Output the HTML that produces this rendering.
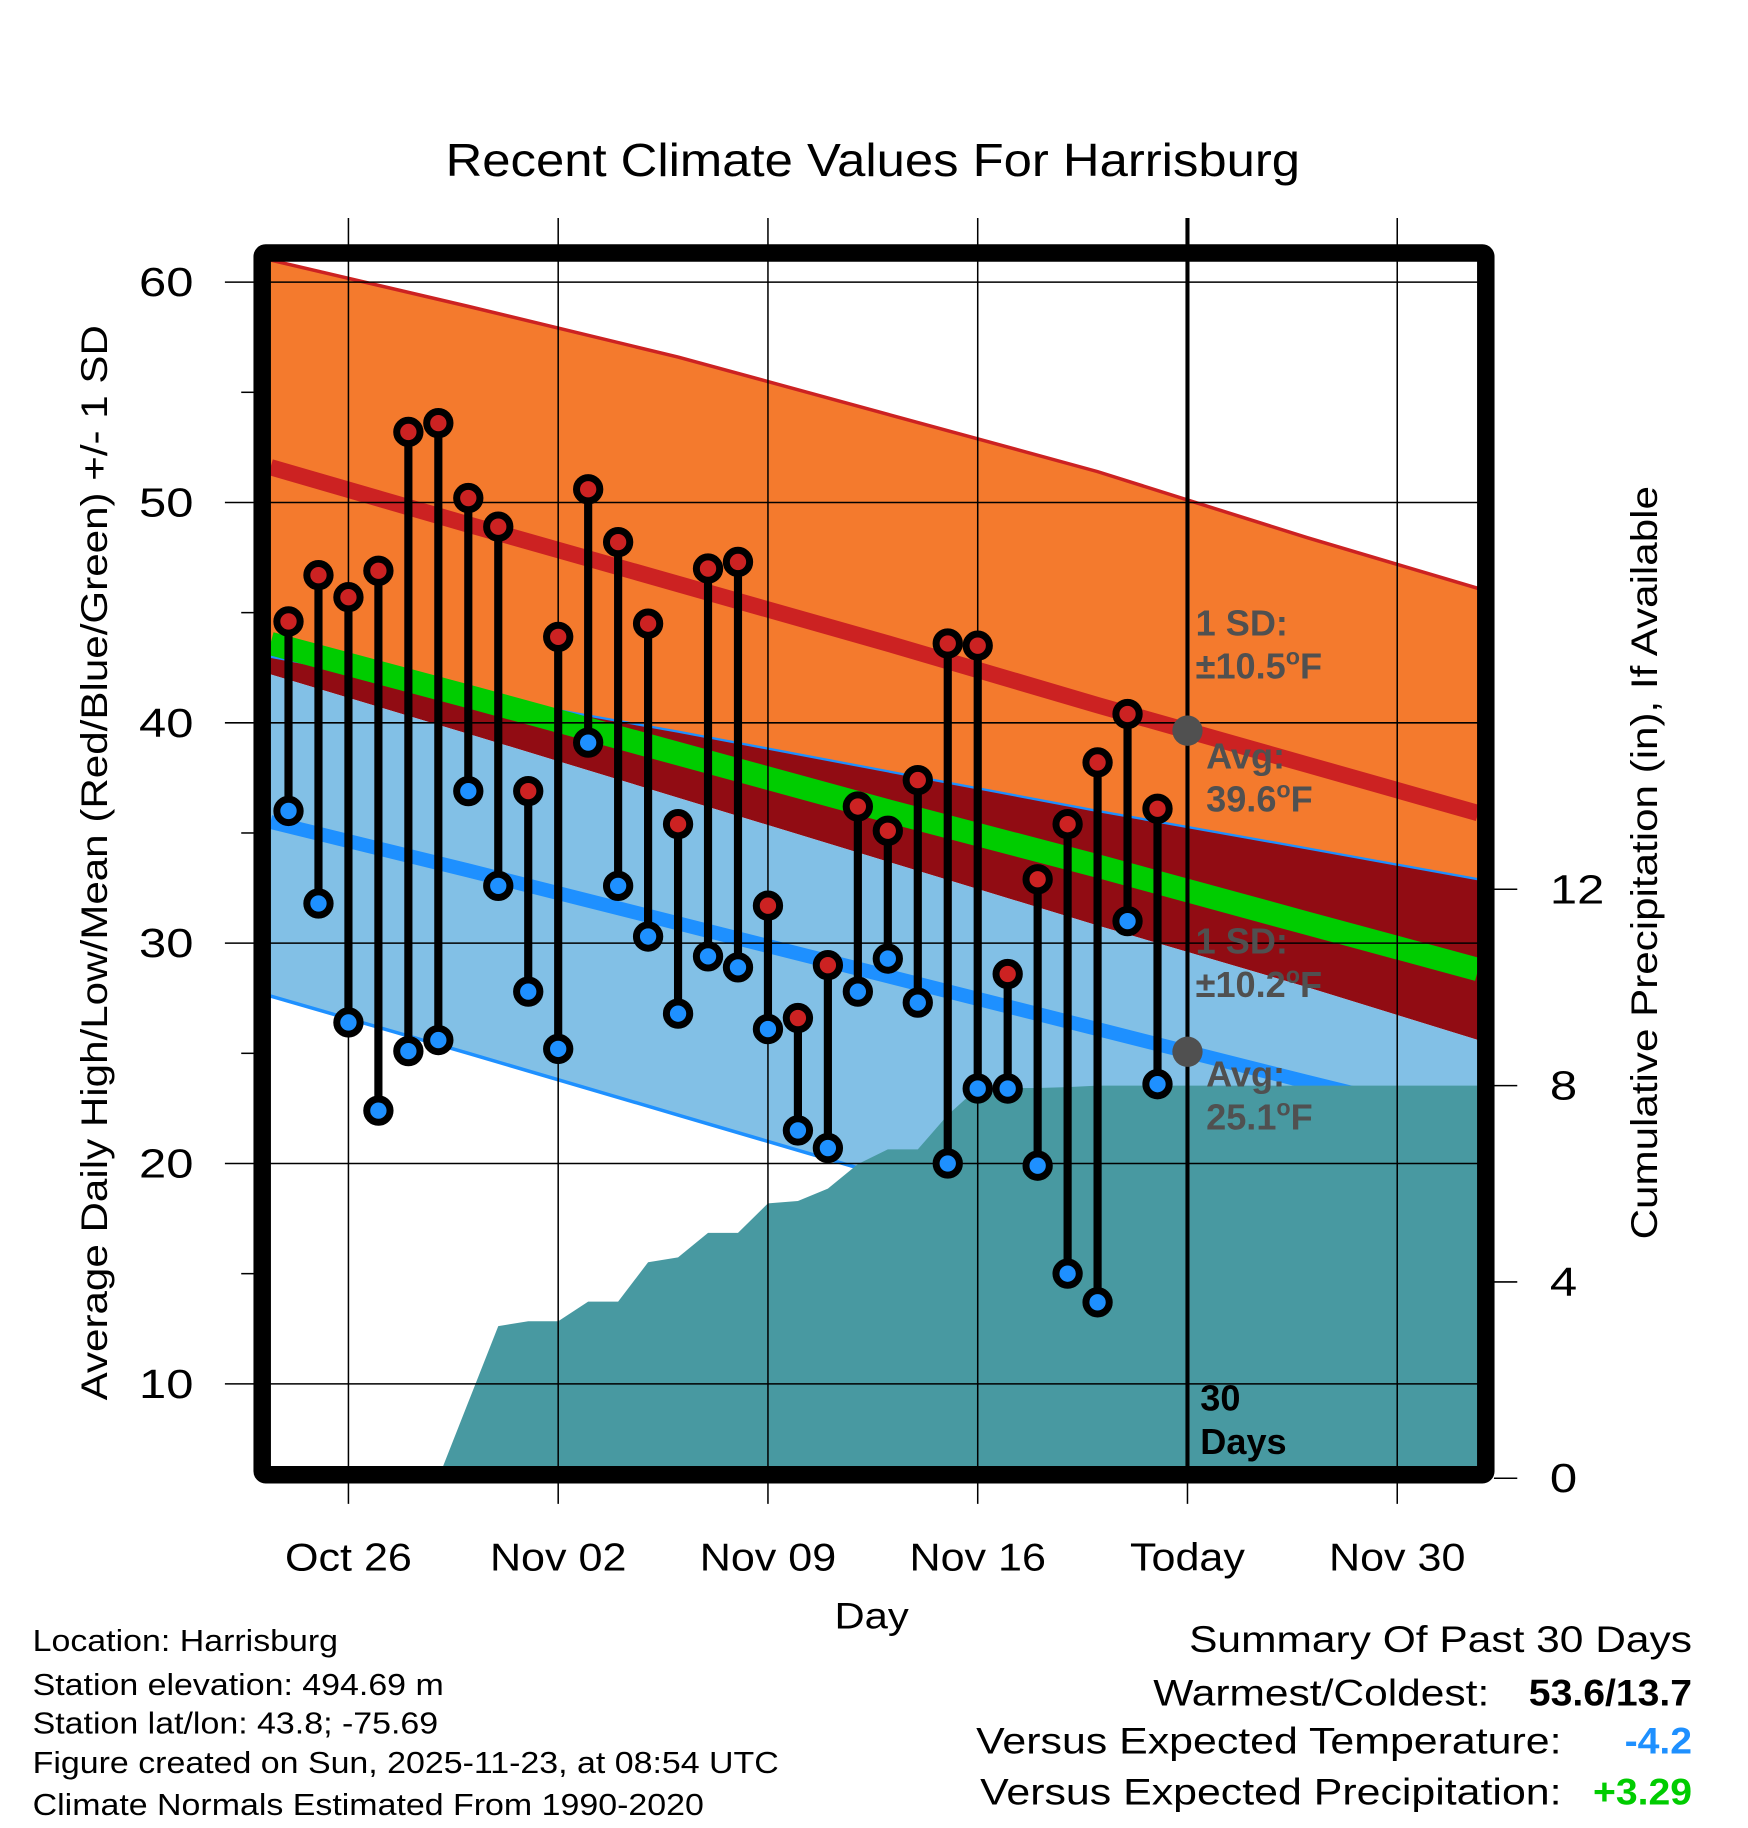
<!DOCTYPE html>
<html><head><meta charset="utf-8"><style>
html,body{margin:0;padding:0;background:#fff;}
svg{display:block;font-family:"Liberation Sans",sans-serif;}
</style></head><body>
<svg id="chart" width="1748" height="1828" viewBox="0 0 1500 1568" preserveAspectRatio="none" xmlns="http://www.w3.org/2000/svg">
<defs><clipPath id="plotclip"><rect x="232" y="224" width="1036" height="1034"/></clipPath></defs>
<text class="st" data-k="1.09" x="749" y="151" font-size="40" text-anchor="middle">Recent Climate Values For Harrisburg</text>
<g id="plot" clip-path="url(#plotclip)"></g>
<g id="over"></g>
<text class="st" data-k="1.13" transform="translate(92,740) rotate(-90)" font-size="32" text-anchor="middle">Average Daily High/Low/Mean (Red/Blue/Green) +/- 1 SD</text>
<text class="st" data-k="1.13" transform="translate(1422,740) rotate(-90)" font-size="32" text-anchor="middle">Cumulative Precipitation (in), If Available</text>
<text class="st" data-k="1.12" x="748" y="1397" font-size="32" text-anchor="middle">Day</text>
<g font-size="26">
<text class="st" data-k="1.12" x="28" y="1416">Location: Harrisburg</text>
<text class="st" data-k="1.12" x="28" y="1454">Station elevation: 494.69 m</text>
<text class="st" data-k="1.12" x="28" y="1487">Station lat/lon: 43.8; -75.69</text>
<text class="st" data-k="1.12" x="28" y="1521">Figure created on Sun, 2025-11-23, at 08:54 UTC</text>
<text class="st" data-k="1.12" x="28" y="1557">Climate Normals Estimated From 1990-2020</text>
</g>
<g font-size="32">
<text class="st" data-k="1.14" x="1452" y="1417" text-anchor="end">Summary Of Past 30 Days</text>
<text class="st" data-k="1.14" x="1278" y="1463" text-anchor="end">Warmest/Coldest:</text>
<text class="st" data-k="1.05" x="1452" y="1463" text-anchor="end" font-weight="bold">53.6/13.7</text>
<text class="st" data-k="1.15" x="1340" y="1504" text-anchor="end">Versus Expected Temperature:</text>
<text class="st" data-k="1.05" x="1452" y="1504" text-anchor="end" font-weight="bold" fill="#1e90ff">-4.2</text>
<text class="st" data-k="1.15" x="1340" y="1548" text-anchor="end">Versus Expected Precipitation:</text>
<text class="st" data-k="1.05" x="1452" y="1548" text-anchor="end" font-weight="bold" fill="#00cc00">+3.29</text>
</g>
</svg>
<script>
// ---- data ----
const obsDays = [-2,-1,0,1,2,3,4,5,6,7,8,9,10,11,12,13,14,15,16,17,18,19,20,21,22,23,24,25,26,27];
const highs = [44.6,46.7,45.7,46.9,53.2,53.6,50.2,48.9,36.9,43.9,50.6,48.2,44.5,35.4,47.0,47.3,31.7,26.6,29.0,36.2,35.1,37.4,43.6,43.5,28.6,32.9,35.4,38.2,40.4,36.1];
const lows = [36.0,31.8,26.4,22.4,25.1,25.6,36.9,32.6,27.8,25.2,39.1,32.6,30.3,26.8,29.4,28.9,26.1,21.5,20.7,27.8,29.3,27.3,20.0,23.4,23.4,19.9,15.0,13.7,31.0,23.6];
const precip = [0,0,0,0,0,0,1.55,3.1,3.2,3.2,3.6,3.6,4.4,4.5,5.0,5.0,5.6,5.65,5.9,6.4,6.7,6.7,7.4,7.95,7.95,7.95,7.97,8.0,8.0,8.0];
const normDays = [-2.6,4,11,18,25,32,37.7];
const highPlusSD = [61.0,58.9,56.6,54.0,51.4,48.4,46.1];
const avgHigh = [51.6,49.0,46.3,43.6,40.8,38.1,35.9];
const avgMean = [43.6,41.2,38.6,36.0,33.5,30.9,28.8];
const highMinusSD = [43.0,41.3,39.6,37.8,36.0,34.3,32.9];
const lowPlusSD = [42.2,39.5,36.6,33.7,30.8,28.0,25.6];
const avgLow = [35.5,33.3,30.9,28.5,26.1,23.7,21.8];
const lowMinusSD = [27.6,25.0,22.2,19.4,16.6,13.8,11.5];
const yTicks = [10,20,30,40,50,60];
const y2Ticks = [0,4,8,12];
const xTickDays = [0,7,14,21,28,35];
const xTickLabels = ["Oct 26","Nov 02","Nov 09","Nov 16","Today","Nov 30"];
const todayDay = 28;

// ---- axes ----
const X = d => 299 + d*180/7;
const Y = v => 242 + (60-v)*18.9;
const Y2 = p => 1268 - p*42.1;
const NS = "http://www.w3.org/2000/svg";
const plot = document.getElementById('plot');
const over = document.getElementById('over');
function mk(parent, tag, attrs){const e=document.createElementNS(NS,tag);for(const k in attrs)e.setAttribute(k,attrs[k]);parent.appendChild(e);return e;}
const pts = arr => normDays.map((d,i)=>X(d)+','+Y(arr[i]));
function band(top,bot,fill,name){
  const p = pts(top).concat(pts(bot).reverse()).join(' ');
  const e = mk(plot,'polygon',{points:p,fill:fill});
  
  
}
function line(arr,color,w,name){
  const e = mk(plot,'polyline',{points:pts(arr).join(' '),fill:'none',stroke:color,'stroke-width':w});
  
  
}
band(highPlusSD,highMinusSD,'#f47a2d','high-sd-band');
band(highMinusSD,lowPlusSD,'#910c13','overlap-band');
band(lowPlusSD,lowMinusSD,'#82c0e6','low-sd-band');
line(highPlusSD,'#cc2222',3,'high-plus-sd-line');
line(highMinusSD,'#1e90ff',2,'high-minus-sd-line');
line(lowMinusSD,'#1e90ff',3,'low-minus-sd-line');
line(avgHigh,'#cc2222',14,'avg-high-line');
line(avgMean,'#00cc00',20,'avg-mean-line');
line(avgLow,'#1e90ff',12,'avg-low-line');
// precip area
{
  let p = obsDays.map((d,i)=>X(d)+','+Y2(precip[i]));
  p.push(X(38)+','+Y2(precip[precip.length-1]));
  p.push(X(38)+','+1300); p.push(X(-3)+','+1300); p.unshift(X(-3)+','+Y2(0));
  const e = mk(plot,'polygon',{points:p.join(' '),fill:'#4899a1'});
  
  
}
// gridlines
xTickDays.forEach((d,i)=>{
  const e = mk(over,'line',{x1:X(d),x2:X(d),y1:187,y2:1290,stroke:'#000','stroke-width':1.3});
  
  
  const t = mk(over,'text',{x:X(d),y:1347,'font-size':33,'text-anchor':'middle','class':'st','data-k':'1.12'});
  t.textContent = xTickLabels[i];
  
  
});
yTicks.forEach(v=>{
  const e = mk(over,'line',{x1:193,x2:1268,y1:Y(v),y2:Y(v),stroke:'#000','stroke-width':1.3});
  
  
  const t = mk(over,'text',{x:166,y:Y(v)+12,'font-size':35,'text-anchor':'end','class':'st','data-k':'1.2'});
  t.textContent = v;
  
  
  if (v+5 < 62) {
    const m = mk(over,'line',{x1:207,x2:220,y1:Y(v+5),y2:Y(v+5),stroke:'#000','stroke-width':1.3});
    
    
  }
});
y2Ticks.forEach(v=>{
  const e = mk(over,'line',{x1:1282,x2:1302,y1:Y2(v),y2:Y2(v),stroke:'#000','stroke-width':1.3});
  
  
  const t = mk(over,'text',{x:1330,y:Y2(v)+12,'font-size':35,'text-anchor':'start','class':'st','data-k':'1.2'});
  t.textContent = v;
  
  
});
// today line
{
  const e = mk(over,'line',{x1:X(todayDay),x2:X(todayDay),y1:187,y2:1262,stroke:'#000','stroke-width':3.5});
  
  
}
// stems & dots
obsDays.forEach((d,i)=>{
  const s = mk(over,'line',{x1:X(d),x2:X(d),y1:Y(highs[i]),y2:Y(lows[i]),stroke:'#000','stroke-width':7});
  
  
});
obsDays.forEach((d,i)=>{
  const h = mk(over,'circle',{cx:X(d),cy:Y(highs[i]),r:10,fill:'#cc2222',stroke:'#000','stroke-width':6});
  
  
  const l = mk(over,'circle',{cx:X(d),cy:Y(lows[i]),r:10,fill:'#1e90ff',stroke:'#000','stroke-width':6});
  
  
});
// annotations
function interp(arr,d){for(let i=0;i<normDays.length-1;i++){if(d<=normDays[i+1]){const t=(d-normDays[i])/(normDays[i+1]-normDays[i]);return arr[i]+t*(arr[i+1]-arr[i]);}}return arr[arr.length-1];}
[[avgHigh,'today-avg-high-dot'],[avgLow,'today-avg-low-dot']].forEach(([arr,n])=>{
  const c = mk(over,'circle',{cx:X(todayDay),cy:Y(interp(arr,todayDay)),r:13,fill:'#505050'});
  
  
});
function ann(x,y,lines,fill,name){
  const t = mk(over,'text',{x:x,y:y,'font-size':31,'font-weight':'bold',fill:fill});
  
  
  lines.forEach((ln,k)=>{const ts=mk(t,'tspan',{x:x,dy:k?37:0});ts.innerHTML=ln;});
}
ann(1026,545,['1 SD:','±10.5<tspan dy="-12" font-size="20">o</tspan><tspan dy="12">F</tspan>'],'#505050','high-sd-annotation');
ann(1035,659,['Avg:','39.6<tspan dy="-12" font-size="20">o</tspan><tspan dy="12">F</tspan>'],'#505050','avg-high-annotation');
ann(1026,818,['1 SD:','±10.2<tspan dy="-12" font-size="20">o</tspan><tspan dy="12">F</tspan>'],'#505050','low-sd-annotation');
ann(1035,932,['Avg:','25.1<tspan dy="-12" font-size="20">o</tspan><tspan dy="12">F</tspan>'],'#505050','avg-low-annotation');
ann(1030,1210,['30','Days'],'#000','days-annotation');
// frame
{
  const f = mk(over,'rect',{x:225,y:217,width:1050,height:1048,fill:'none',stroke:'#000','stroke-width':15,rx:3});
  
  
}
// widen text to match reference font metrics
document.querySelectorAll('text.st').forEach(t=>{
  const k = parseFloat(t.getAttribute('data-k'));
  const w = t.getComputedTextLength();
  t.setAttribute('textLength', (w*k).toFixed(1));
  t.setAttribute('lengthAdjust', 'spacingAndGlyphs');
});
</script>
</body></html>
